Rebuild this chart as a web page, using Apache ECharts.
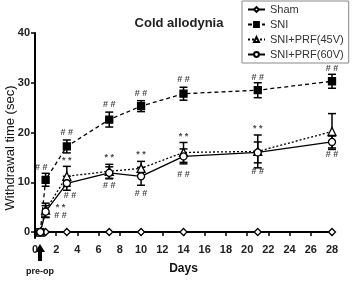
<!DOCTYPE html>
<html>
<head>
<meta charset="utf-8">
<script src="https://cdn.jsdelivr.net/npm/echarts@6/dist/echarts.min.js"></script>
<style>
  html, body { margin: 0; padding: 0; background: #fff; }
  #chart { width: 358px; height: 283px; }
</style>
</head>
<body>
<div id="chart"></div>
<script>
// days of measurement (0.5 = pre-op)
const days = [0.5, 1, 3, 7, 10, 14, 21, 28];
const yTicks = [0, 10, 20, 30, 40];

// mean values
const sham = [0, 0, 0, 0, 0, 0, 0, 0];
const sni = [0, 10.5, 17.2, 22.6, 25.3, 27.8, 28.5, 30.3];
const prf45 = [0, 4.4, 11.2, 12.2, 12.8, 16.0, 16.2, 20.2];
const prf60 = [0, 4.1, 9.8, 11.9, 11.2, 15.2, 16.0, 18.1];

// error (sem)
const sniErr = [0, 1.3, 1.3, 1.5, 1.1, 1.3, 1.5, 1.4];
const prf45Err = [0, 1.4, 2.0, 1.4, 1.4, 2.0, 3.3, 3.6];
const prf60Err = [0, 1.2, 1.4, 1.2, 1.8, 1.5, 2.1, 1.2];

// significance marks: [day, value, text]
const marks = [
  [0.6, 13.0, '# #'], [3, 20.0, '# #'], [7, 25.6, '# #'], [10, 27.9, '# #'],
  [14, 30.7, '# #'], [21, 31.1, '# #'], [28, 32.9, '# #'],
  [2.4, 5.0, '* *'], [2.4, 3.3, '# #'],
  [3, 14.4, '* *'], [7, 15.0, '* *'], [10, 15.6, '* *'], [14, 19.2, '* *'],
  [21, 20.8, '* *'], [29.6, 18.6, '* *'],
  [3.3, 7.4, '# #'], [7, 9.4, '# #'], [10, 7.8, '# #'], [14, 11.5, '# #'],
  [21, 12.2, '# #'], [28, 15.6, '# #']
];

const pair = (vals) => days.map((d, i) => [d, vals[i]]);
const errData = (vals, errs) => days.map((d, i) => [d, vals[i], errs[i]]).filter(r => r[2] > 0);

function errBars(name, vals, errs) {
  return {
    name: name + '_err',
    type: 'custom',
    data: errData(vals, errs),
    z: 1,
    silent: true,
    renderItem: function (params, api) {
      const x = api.value(0), m = api.value(1), e = api.value(2);
      const top = api.coord([x, m + e]);
      const bot = api.coord([x, m - e]);
      const w = 4;
      const style = { stroke: '#000', lineWidth: 1.5 };
      return {
        type: 'group',
        children: [
          { type: 'line', shape: { x1: top[0], y1: top[1], x2: bot[0], y2: bot[1] }, style },
          { type: 'line', shape: { x1: top[0] - w, y1: top[1], x2: top[0] + w, y2: top[1] }, style },
          { type: 'line', shape: { x1: bot[0] - w, y1: bot[1], x2: bot[0] + w, y2: bot[1] }, style }
        ]
      };
    }
  };
}

function lineSeries(name, vals, symbol, filled, lineType) {
  return {
    name: name,
    type: 'line',
    data: pair(vals),
    symbol: symbol,
    symbolSize: symbol === 'triangle' ? 8 : 7,
    z: 3,
    lineStyle: { color: '#000', width: 1.3, type: lineType },
    itemStyle: { color: filled ? '#000' : '#fff', borderColor: '#000', borderWidth: 1.3 }
  };
}

const chart = echarts.init(document.getElementById('chart'));
const option = {
  animation: false,
  title: {
    text: 'Cold allodynia',
    left: 'center',
    top: 12,
    textStyle: { fontFamily: 'Liberation Sans', fontSize: 13, fontWeight: 'bold', color: '#222' }
  },
  legend: {
    data: ['Sham', 'SNI', 'SNI+PRF(45V)', 'SNI+PRF(60V)'],
    orient: 'vertical',
    left: 242,
    top: 1,
    padding: [3, 5, 3, 5],
    itemGap: 4,
    itemWidth: 17,
    itemHeight: 6,
    borderColor: '#888',
    borderWidth: 1,
    backgroundColor: '#fff',
    textStyle: { fontFamily: 'Liberation Sans', fontSize: 11, color: '#333' }
  },
  grid: { left: 35, right: 26, top: 33, bottom: 45, outerBoundsMode: 'none' },
  xAxis: {
    type: 'value',
    min: 0,
    max: 28,
    interval: 2,
    name: 'Days',
    nameLocation: 'middle',
    nameGap: 25,
    nameTextStyle: { fontFamily: 'Liberation Sans', fontSize: 12, fontWeight: 'bold', color: '#111' },
    splitLine: { show: false },
    axisLine: { lineStyle: { color: '#000', width: 2 } },
    axisTick: { length: 4, lineStyle: { color: '#000', width: 1.5 } },
    axisLabel: { fontFamily: 'Liberation Sans', fontSize: 11, fontWeight: 'bold', color: '#222', margin: 6 }
  },
  yAxis: {
    type: 'value',
    min: -1.2,
    max: 40,
    splitLine: { show: false },
    axisLine: { lineStyle: { color: '#000', width: 2 } },
    axisTick: { length: 4, customValues: yTicks, lineStyle: { color: '#000', width: 1.5 } },
    axisLabel: { customValues: yTicks, fontFamily: 'Liberation Sans', fontSize: 11, fontWeight: 'bold', color: '#222', margin: 5 }
  },
  series: [
    errBars('SNI', sni, sniErr),
    errBars('SNI+PRF(45V)', prf45, prf45Err),
    errBars('SNI+PRF(60V)', prf60, prf60Err),
    lineSeries('Sham', sham, 'diamond', false, 'solid'),
    lineSeries('SNI', sni, 'rect', true, [4, 3]),
    lineSeries('SNI+PRF(45V)', prf45, 'triangle', false, [2, 2]),
    lineSeries('SNI+PRF(60V)', prf60, 'circle', false, 'solid'),
    {
      name: 'marks',
      type: 'scatter',
      data: marks,
      symbolSize: 0,
      silent: true,
      z: 4,
      label: {
        show: true,
        position: 'inside',
        formatter: (p) => p.data[2],
        fontFamily: 'Liberation Sans',
        fontSize: 9,
        fontWeight: 'bold',
        color: '#111'
      }
    }
  ],
  graphic: [
    {
      type: 'text',
      x: 10,
      y: 148,
      rotation: Math.PI / 2,
      style: {
        text: 'Withdrawal time (sec)',
        fontFamily: 'Liberation Sans',
        fontSize: 13,
        fill: '#111',
        align: 'center',
        verticalAlign: 'middle'
      }
    },
    {
      type: 'polygon',
      shape: { points: [[40, 244], [45, 252], [42, 252], [42, 261], [38, 261], [38, 252], [35, 252]] },
      style: { fill: '#000' }
    },
    {
      type: 'text',
      left: 26,
      top: 267,
      style: { text: 'pre-op', fontFamily: 'Liberation Sans', fontSize: 9, fontWeight: 'bold', fill: '#111' }
    }
  ]
};
chart.setOption(option);
</script>
</body>
</html>
